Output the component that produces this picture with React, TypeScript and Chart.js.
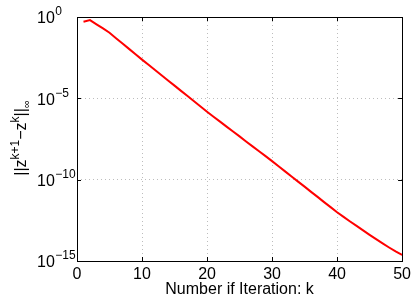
import React, { useEffect, useRef } from "react";
import { Chart, registerables } from "chart.js";

Chart.register(...registerables);

const iterations = [
  1, 2, 3, 4, 5, 6, 7, 8, 9, 10,
  11, 12, 13, 14, 15, 16, 17, 18, 19, 20,
  21, 22, 23, 24, 25, 26, 27, 28, 29, 30,
  31, 32, 33, 34, 35, 36, 37, 38, 39, 40,
  41, 42, 43, 44, 45, 46, 47, 48, 49, 50,
];

const residuals = [
  0.513, 0.646, 0.355, 0.2, 0.107, 5.01e-2, 2.34e-2, 1.1e-2, 5.13e-3, 2.4e-3,
  1.15e-3, 5.5e-4, 2.63e-4, 1.26e-4, 6.03e-5, 2.88e-5, 1.38e-5, 6.61e-6, 3.16e-6, 1.51e-6,
  7.41e-7, 3.72e-7, 1.82e-7, 9.12e-8, 4.57e-8, 2.24e-8, 1.12e-8, 5.62e-9, 2.82e-9, 1.38e-9,
  6.76e-10, 3.24e-10, 1.58e-10, 7.59e-11, 3.72e-11, 1.78e-11, 8.71e-12, 4.17e-12, 2.04e-12, 1.0e-12,
  5.13e-13, 2.69e-13, 1.45e-13, 7.59e-14, 4.07e-14, 2.19e-14, 1.2e-14, 6.76e-15, 3.89e-15, 2.34e-15,
];

const yTickValues = [1, 1e-5, 1e-10, 1e-15];
const yTickExponents = ["0", "\u22125", "\u221210", "\u221215"];
const xTitle = "Number if Iteration: k";

const FONT = "'Liberation Sans', Arial, Helvetica, sans-serif";

const decorPlugin = {
  id: "decor",
  afterDraw(chart: any) {
    const { ctx, chartArea, scales } = chart;
    const { left, right, top, bottom } = chartArea;
    const xs = scales.x;
    const ys = scales.y;
    ctx.save();
    // box
    ctx.strokeStyle = "#000";
    ctx.lineWidth = 1;
    ctx.setLineDash([]);
    ctx.strokeRect(Math.round(left) + 0.5, Math.round(top) + 0.5, Math.round(right - left), Math.round(bottom - top));
    // inward ticks
    ctx.beginPath();
    xs.ticks.forEach((t: any) => {
      const px = Math.round(xs.getPixelForValue(t.value)) + 0.5;
      ctx.moveTo(px, bottom);
      ctx.lineTo(px, bottom - 4);
      ctx.moveTo(px, top);
      ctx.lineTo(px, top + 4);
    });
    yTickValues.forEach((v) => {
      const py = Math.round(ys.getPixelForValue(v)) + 0.5;
      ctx.moveTo(left, py);
      ctx.lineTo(left + 4, py);
      ctx.moveTo(right, py);
      ctx.lineTo(right - 4, py);
    });
    ctx.stroke();

    // y tick labels: 10^e
    ctx.fillStyle = "#000";
    ctx.textAlign = "left";
    ctx.textBaseline = "middle";
    yTickValues.forEach((v, i) => {
      const py = ys.getPixelForValue(v);
      ctx.font = `16px ${FONT}`;
      const baseX = 37;
      ctx.fillText("10", baseX, py + 2);
      const w = ctx.measureText("10").width;
      ctx.font = `12px ${FONT}`;
      ctx.fillText(yTickExponents[i], baseX + w + 0.5, py - 5);
    });

    // y title rotated
    const segs = [
      { t: "||z", size: 16, dy: 0 },
      { t: "k+1", size: 12, dy: -7 },
      { t: "\u2212z", size: 16, dy: 0 },
      { t: "k", size: 12, dy: -7 },
      { t: "||", size: 16, dy: 0 },
      { t: "\u221e", size: 11, dy: 4 },
    ];
    let total = 0;
    segs.forEach((s) => {
      ctx.font = `${s.size}px ${FONT}`;
      total += ctx.measureText(s.t).width;
    });
    ctx.translate(26, 138);
    ctx.rotate(-Math.PI / 2);
    ctx.textBaseline = "alphabetic";
    let cx = -total / 2;
    segs.forEach((s) => {
      ctx.font = `${s.size}px ${FONT}`;
      ctx.fillText(s.t, cx, s.dy);
      cx += ctx.measureText(s.t).width;
    });
    ctx.restore();
  },
};

export default function App() {
  const canvasRef = useRef<HTMLCanvasElement | null>(null);

  useEffect(() => {
    if (!canvasRef.current) return;
    const chart = new Chart(canvasRef.current, {
      type: "line",
      data: {
        datasets: [
          {
            data: iterations.map((k, i) => ({ x: k, y: residuals[i] })),
            borderColor: "#ff0000",
            borderWidth: 2,
            pointRadius: 0,
            tension: 0,
            fill: false,
          },
        ],
      },
      options: {
        animation: false,
        responsive: true,
        maintainAspectRatio: false,
        layout: { padding: { top: 17, right: 12, left: 0, bottom: 0 } },
        plugins: {
          legend: { display: false },
          tooltip: { enabled: false },
        },
        scales: {
          x: {
            type: "linear",
            min: 0,
            max: 50,
            ticks: {
              stepSize: 10,
              color: "#000",
              font: { family: FONT, size: 16 },
              padding: 4,
              maxRotation: 0,
            },
            grid: { color: "#bdbdbd", drawTicks: false, lineWidth: 1 },
            border: { display: false, dash: [1, 3] },
            title: {
              display: true,
              text: xTitle,
              color: "#000",
              font: { family: FONT, size: 16 },
              padding: { top: 0, bottom: 1 },
            },
            afterFit: (s: any) => {
              s.height = 39;
            },
          },
          y: {
            type: "logarithmic",
            min: 1e-15,
            max: 1,
            afterBuildTicks: (s: any) => {
              s.ticks = yTickValues.map((v) => ({ value: v }));
            },
            ticks: { display: false },
            grid: { color: "#bdbdbd", drawTicks: false, lineWidth: 1 },
            border: { display: false, dash: [1, 3] },
            afterFit: (s: any) => {
              s.width = 77;
            },
          },
        },
      },
      plugins: [decorPlugin],
    });
    return () => chart.destroy();
  }, []);

  return (
    <div style={{ position: "fixed", left: 0, top: 0, width: 415, height: 300, background: "#fff" }}>
      <canvas ref={canvasRef} />
    </div>
  );
}
